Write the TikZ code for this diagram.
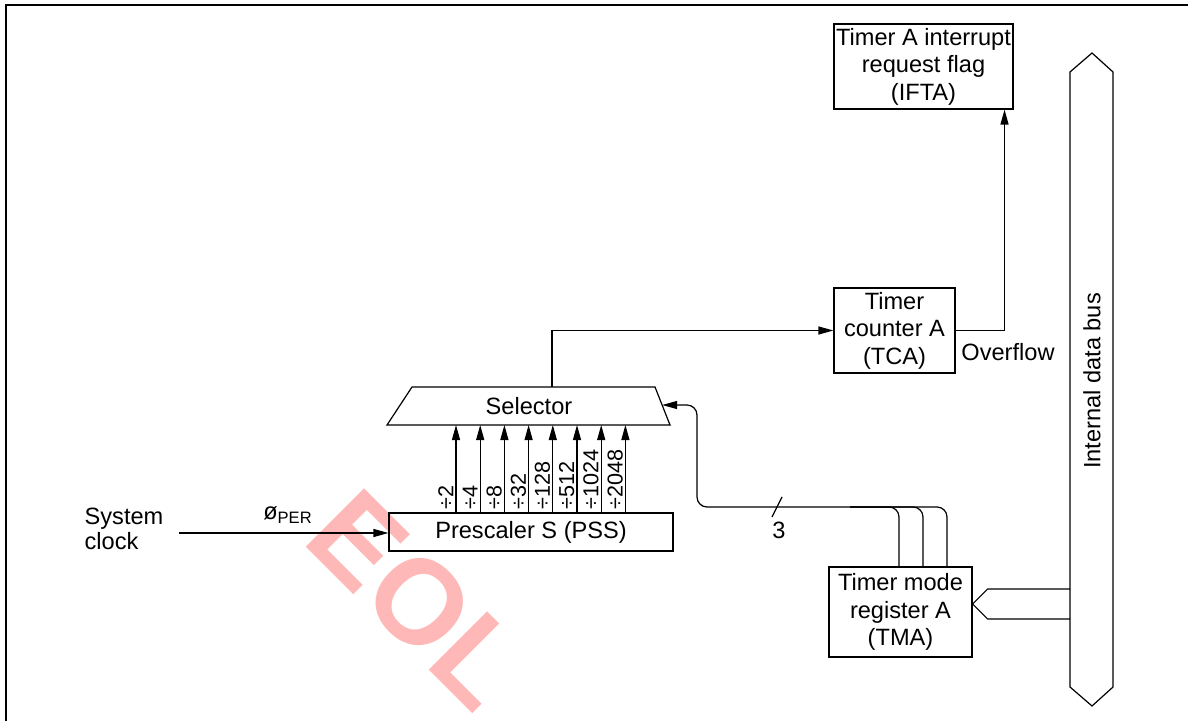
\documentclass[tikz,border=0pt]{standalone}
\usepackage{fontspec}
\setmainfont{Liberation Sans}
\usetikzlibrary{arrows.meta,calc}
\definecolor{eolpink}{RGB}{255,184,184}
\tikzset{
  txt/.style={font=\fontsize{11.8}{13.8}\selectfont},
  blk/.style={draw, align=center, inner sep=1pt},
  arr/.style={-{Triangle[length=7.5pt,width=4pt]}},
  divlbl/.style={font=\fontsize{10.8}{12}\selectfont, rotate=90, anchor=south west, inner sep=0.5pt},
}
\begin{document}
\begin{tikzpicture}[x=0.5pt,y=-0.5pt,line width=0.6pt,every node/.style={txt}]
  \useasboundingbox (0,0) rectangle (1188,721);
  % watermark
  \node[text=eolpink, font=\fontsize{60}{60}\selectfont\bfseries, rotate=-45, anchor=base west, inner sep=0] (eol) at (300,541) {EOL};
  \draw[line width=1pt] (1188,5) -- (5.5,5) -- (5.5,721);

  \node[blk, minimum width=79.5pt, minimum height=42.5pt] (ifta) at (923.5,66.5) {Timer A interrupt\\request flag\\(IFTA)};
  \node[blk, minimum width=60.5pt, minimum height=42.5pt] (tca) at (894.5,330.5) {Timer\\counter A\\(TCA)};
  \node[blk, minimum width=71.5pt, minimum height=45pt] (tma) at (900.5,612) {Timer mode\\register A\\(TMA)};
  \node[blk, minimum width=142pt, minimum height=19pt] (pss) at (531,532) {Prescaler S (PSS)};
  \node[align=left, font=\fontsize{11.8}{12.5}\selectfont] (sysclk) at (124,529) {System\\clock};

  % selector
  \coordinate (selA) at (387,425);
  \coordinate (selB) at (412,387);
  \coordinate (selC) at (655,387);
  \coordinate (selD) at (670,425);
  \draw (selA) -- (selB) -- (selC) -- (selD) -- cycle;
  \node (sel) at (529,406) {Selector};
  \coordinate (selout) at (552,387);
  \coordinate (selin) at ($(selC)!0.474!(selD)$);

  % internal data bus
  \draw (1070,72) -- (1092,53) -- (1113,72) -- (1113,687) -- (1092,706) -- (1070,687) -- cycle;
  \node[rotate=90] (bus) at (1092,381) {Internal data bus};
  \coordinate (busin1) at (1070,589);
  \coordinate (busin2) at (1070,619);
  \coordinate (tmatip) at ($(tma.east)+(0,-8)$);
  \draw (busin1) -- ($(tmatip)+(15,-15)$) -- (tmatip) -- ($(tmatip)+(15,15)$) -- (busin2);

  % clock input
  \coordinate (clkin) at (179,533);
  \draw[arr] (clkin) -- (clkin -| pss.west);
  \node (phi) at (288,515) {ø\textsubscript{PER}};

  % prescaler outputs
  \foreach \d [count=\i from 0] in {2,4,8,32,128,512,1024,2048} {
    \coordinate (tap\i) at ({456+24.2*\i},513);
    \draw[arr] (tap\i) -- (tap\i |- selA);
    \node[divlbl] (div\i) at ($(tap\i)+(-1,-2)$) {÷\d};
  }

  \draw[arr] (selout) |- (tca.west);
  \draw[arr] (tca.east) -| ($(ifta.south east)+(-9,0)$);
  \node (ovf) at (1008,352) {Overflow};

  % mode select lines
  \coordinate (m1) at ($(tma.north)+(-1.5,0)$);
  \coordinate (m2) at ($(tma.north)+(22.5,0)$);
  \coordinate (m3) at ($(tma.north)+(46.5,0)$);
  \draw[arr, rounded corners=5pt] (m3) |- (697,507) |- (selin);
  \draw[rounded corners=5pt] (m1) |- (850,507);
  \draw[rounded corners=5pt] (m2) |- (850,507);
  \coordinate (busmark) at (777,507);
  \draw ($(busmark)+(-5,10)$) -- ($(busmark)+(5,-10)$);
  \node (nbits) at (779,530) {3};
\end{tikzpicture}
\end{document}
